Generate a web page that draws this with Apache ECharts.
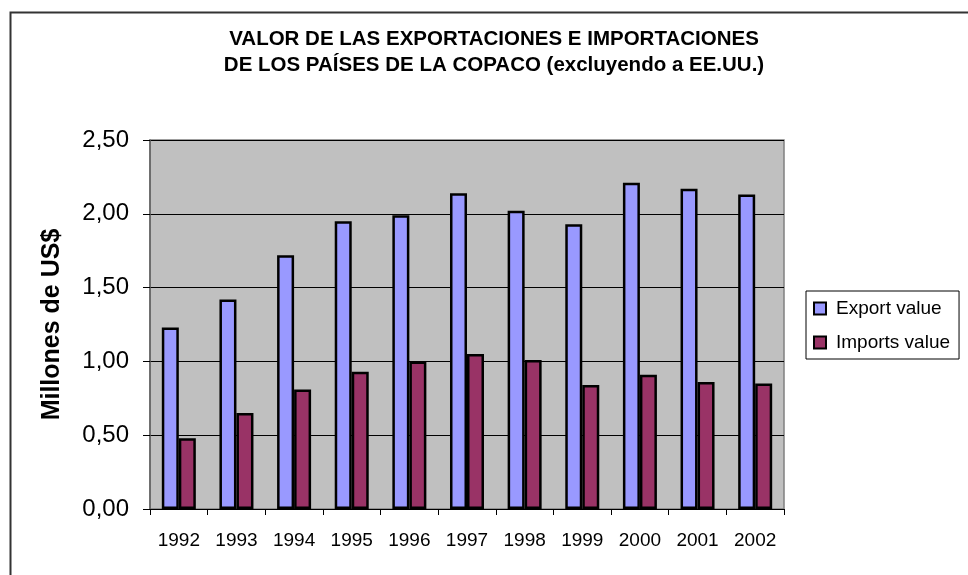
<!DOCTYPE html>
<html>
<head>
<meta charset="utf-8">
<script src="https://cdn.jsdelivr.net/npm/echarts@6/dist/echarts.min.js"></script>
<style>
  html, body { margin: 0; padding: 0; background: #fff; }
  #chart { width: 968px; height: 575px; }
</style>
</head>
<body>
<div id="chart"></div>
<script>
var years = ['1992', '1993', '1994', '1995', '1996', '1997', '1998', '1999', '2000', '2001', '2002'];
var exportValue = [1.23, 1.42, 1.72, 1.95, 1.99, 2.14, 2.02, 1.93, 2.21, 2.17, 2.13];
var importsValue = [0.48, 0.65, 0.81, 0.93, 1.00, 1.05, 1.01, 0.84, 0.91, 0.86, 0.85];

var font = '"Liberation Sans", Arial, sans-serif';

var chart = echarts.init(document.getElementById('chart'));

var option = {
    backgroundColor: '#fff',
    animation: false,
    title: {
        text: 'VALOR DE LAS EXPORTACIONES E IMPORTACIONES\nDE LOS PAÍSES DE LA COPACO (excluyendo a EE.UU.)',
        left: 494,
        top: 26,
        padding: 0,
        textAlign: 'center',
        textStyle: {
            fontFamily: font,
            fontSize: 20.5,
            fontWeight: 'bold',
            color: '#000',
            lineHeight: 26
        }
    },
    graphic: [{
        type: 'rect',
        left: 8,
        top: 10,
        shape: { width: 1000, height: 600 },
        style: { fill: 'none', stroke: '#333', lineWidth: 2 },
        silent: true
    }],
    legend: {
        orient: 'vertical',
        left: 806,
        top: 291,
        padding: [8, 9, 7, 7],
        itemGap: 15,
        itemWidth: 12,
        itemHeight: 12,
        icon: 'rect',
        borderColor: '#000',
        borderWidth: 1,
        backgroundColor: '#fff',
        textStyle: {
            fontFamily: font,
            fontSize: 19,
            color: '#000',
            padding: [0, 0, 0, 5]
        },
        data: ['Export value', 'Imports value']
    },
    grid: {
        left: 150,
        top: 140,
        width: 634,
        height: 369,
        show: true,
        backgroundColor: '#c0c0c0',
        borderColor: '#808080',
        borderWidth: 1.5
    },
    xAxis: {
        type: 'category',
        data: years,
        axisLine: { lineStyle: { color: '#000', width: 1 } },
        axisTick: { show: true, length: 6, lineStyle: { color: '#000' } },
        axisLabel: {
            fontFamily: font,
            fontSize: 19,
            color: '#000',
            margin: 22
        }
    },
    yAxis: {
        type: 'value',
        min: 0,
        max: 2.5,
        interval: 0.5,
        name: 'Millones de US$',
        nameLocation: 'middle',
        nameGap: 85,
        nameTextStyle: {
            fontFamily: font,
            fontSize: 25,
            fontWeight: 'bold',
            color: '#000'
        },
        axisLine: { show: true, lineStyle: { color: '#606060', width: 1.5 } },
        axisTick: { show: true, length: 7, lineStyle: { color: '#000' } },
        axisLabel: {
            fontFamily: font,
            fontSize: 24,
            color: '#000',
            margin: 21,
            formatter: function (v) { return v.toFixed(2).replace('.', ','); }
        },
        splitLine: { lineStyle: { color: '#000', width: 1 } }
    },
    series: [{
        name: 'Export value',
        type: 'bar',
        data: exportValue,
        barGap: '0%',
        barCategoryGap: '41%',
        itemStyle: { color: '#9999ff', borderColor: '#000', borderWidth: 2.5 }
    }, {
        name: 'Imports value',
        type: 'bar',
        data: importsValue,
        itemStyle: { color: '#993366', borderColor: '#000', borderWidth: 2.5 }
    }]
};

chart.setOption(option);
</script>
</body>
</html>
